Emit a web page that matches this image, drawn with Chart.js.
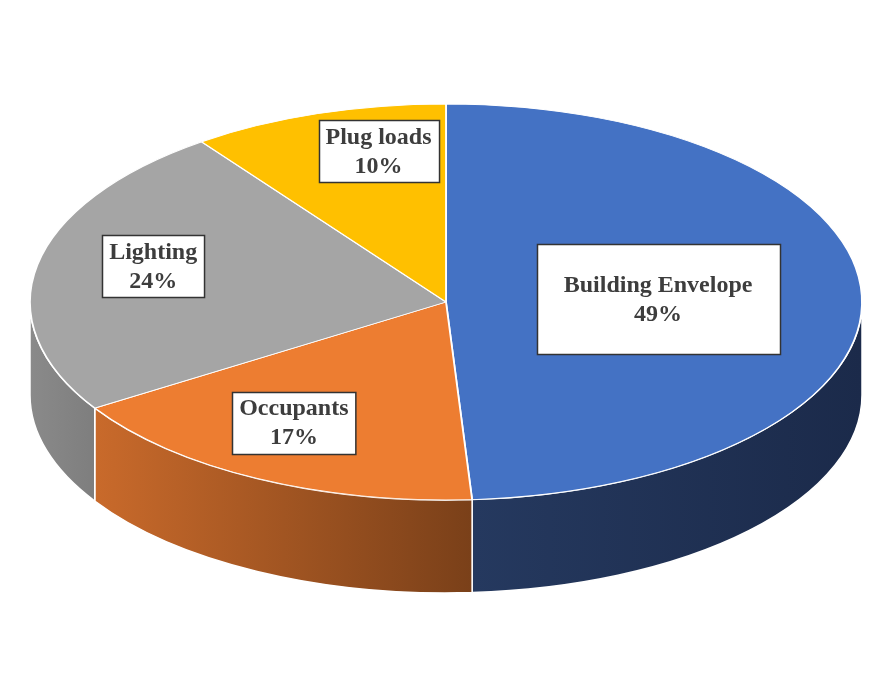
<!DOCTYPE html>
<html><head><meta charset="utf-8">
<script src="https://cdn.jsdelivr.net/npm/chart.js@4.4.1/dist/chart.umd.min.js"></script>
<style>html,body{margin:0;padding:0;background:#fff}#wrap{width:881px;height:684px;position:relative}</style>
</head><body><div id="wrap"><canvas id="c"></canvas></div>
<script>
// ---- data ----
const categories = ['Building Envelope', 'Occupants', 'Lighting', 'Plug loads'];
const shares = [49, 17, 24, 10];
const percentLabels = ['49%', '17%', '24%', '10%'];

// ---- styles ----
const topColors = ['#4472C4', '#ED7D31', '#A5A5A5', '#FFC000'];
const wallLeft = ['#25395F', '#C96A2B', '#8A8A8A', '#BF9000'];
const wallRight = ['#1B2A4A', '#7A4019', '#7E7E7E', '#BF9000'];
const TILT = 198 / 416;
const DEPTH = 93;
const labelFrac = [0.51, 0.71, 0.727, 0.78];
const labelNudgeDeg = [0, 4, 3.7, 6];
const boxMin = [[243, 110], null, null, null];

const pie3d = {
  id: 'pie3d',
  beforeDatasetsDraw(chart) {
    const ctx = chart.ctx;
    const meta = chart.getDatasetMeta(0);
    const a0 = meta.data[0];
    const cx = a0.x, cy = a0.y, rx = a0.outerRadius, ry = rx * TILT;
    ctx.save();
    meta.data.forEach((arc, i) => {
      const s = Math.max(arc.startAngle, 0), e = Math.min(arc.endAngle, Math.PI);
      if (e <= s) return;
      const xl = cx + rx * Math.cos(e), xr = cx + rx * Math.cos(s);
      const g = ctx.createLinearGradient(Math.min(xl, xr), 0, Math.max(xl, xr), 0);
      g.addColorStop(0, wallLeft[i]);
      g.addColorStop(1, wallRight[i]);
      ctx.beginPath();
      ctx.ellipse(cx, cy, rx, ry, 0, s, e, false);
      ctx.lineTo(cx + rx * Math.cos(e), cy + ry * Math.sin(e) + DEPTH);
      ctx.ellipse(cx, cy + DEPTH, rx, ry, 0, e, s, true);
      ctx.closePath();
      ctx.fillStyle = g;
      ctx.fill();
      ctx.strokeStyle = '#ffffff';
      ctx.lineWidth = 1.5;
      ctx.stroke();
    });
    ctx.restore();
    ctx.save();
    ctx.translate(cx, cy);
    ctx.scale(1, TILT);
    ctx.translate(-cx, -cy);
  },
  afterDatasetsDraw(chart) {
    chart.ctx.restore();
  },
  afterDraw(chart) {
    const ctx = chart.ctx;
    const meta = chart.getDatasetMeta(0);
    ctx.save();
    ctx.font = 'bold 24px "Liberation Serif", "Times New Roman", serif';
    ctx.textAlign = 'center';
    ctx.textBaseline = 'middle';
    const lineH = 29;
    meta.data.forEach((arc, i) => {
      const cx = arc.x, cy = arc.y, rx = arc.outerRadius, ry = rx * TILT;
      const mid = (arc.startAngle + arc.endAngle) / 2 + labelNudgeDeg[i] * Math.PI / 180;
      const lx = cx + rx * labelFrac[i] * Math.cos(mid);
      const ly = cy + ry * labelFrac[i] * Math.sin(mid);
      const lines = [categories[i], percentLabels[i]];
      const tw = Math.max(...lines.map(t => ctx.measureText(t).width));
      let bw = tw + 14, bh = 62;
      if (boxMin[i]) { bw = Math.max(bw, boxMin[i][0]); bh = Math.max(bh, boxMin[i][1]); }
      const bx = Math.round(lx - bw / 2) + 0.5, by = Math.round(ly - bh / 2) + 0.5;
      ctx.fillStyle = '#ffffff';
      ctx.fillRect(bx, by, bw, bh);
      ctx.strokeStyle = '#333333';
      ctx.lineWidth = 1.5;
      ctx.strokeRect(bx, by, bw, bh);
      ctx.fillStyle = '#3d3d3d';
      ctx.fillText(lines[0], lx, ly - lineH / 2 + 1);
      ctx.fillText(lines[1], lx, ly + lineH / 2 + 1);
    });
    ctx.restore();
  }
};

new Chart(document.getElementById('c'), {
  type: 'pie',
  data: {
    labels: categories,
    datasets: [{
      data: shares,
      backgroundColor: topColors,
      borderColor: '#ffffff',
      borderWidth: 1.8,
      radius: 416
    }]
  },
  options: {
    responsive: true,
    maintainAspectRatio: false,
    animation: false,
    events: [],
    layout: { padding: { left: 11, right: 0, top: 0, bottom: 80 } },
    plugins: { legend: { display: false }, tooltip: { enabled: false } }
  },
  plugins: [pie3d]
});
</script>
</body></html>
